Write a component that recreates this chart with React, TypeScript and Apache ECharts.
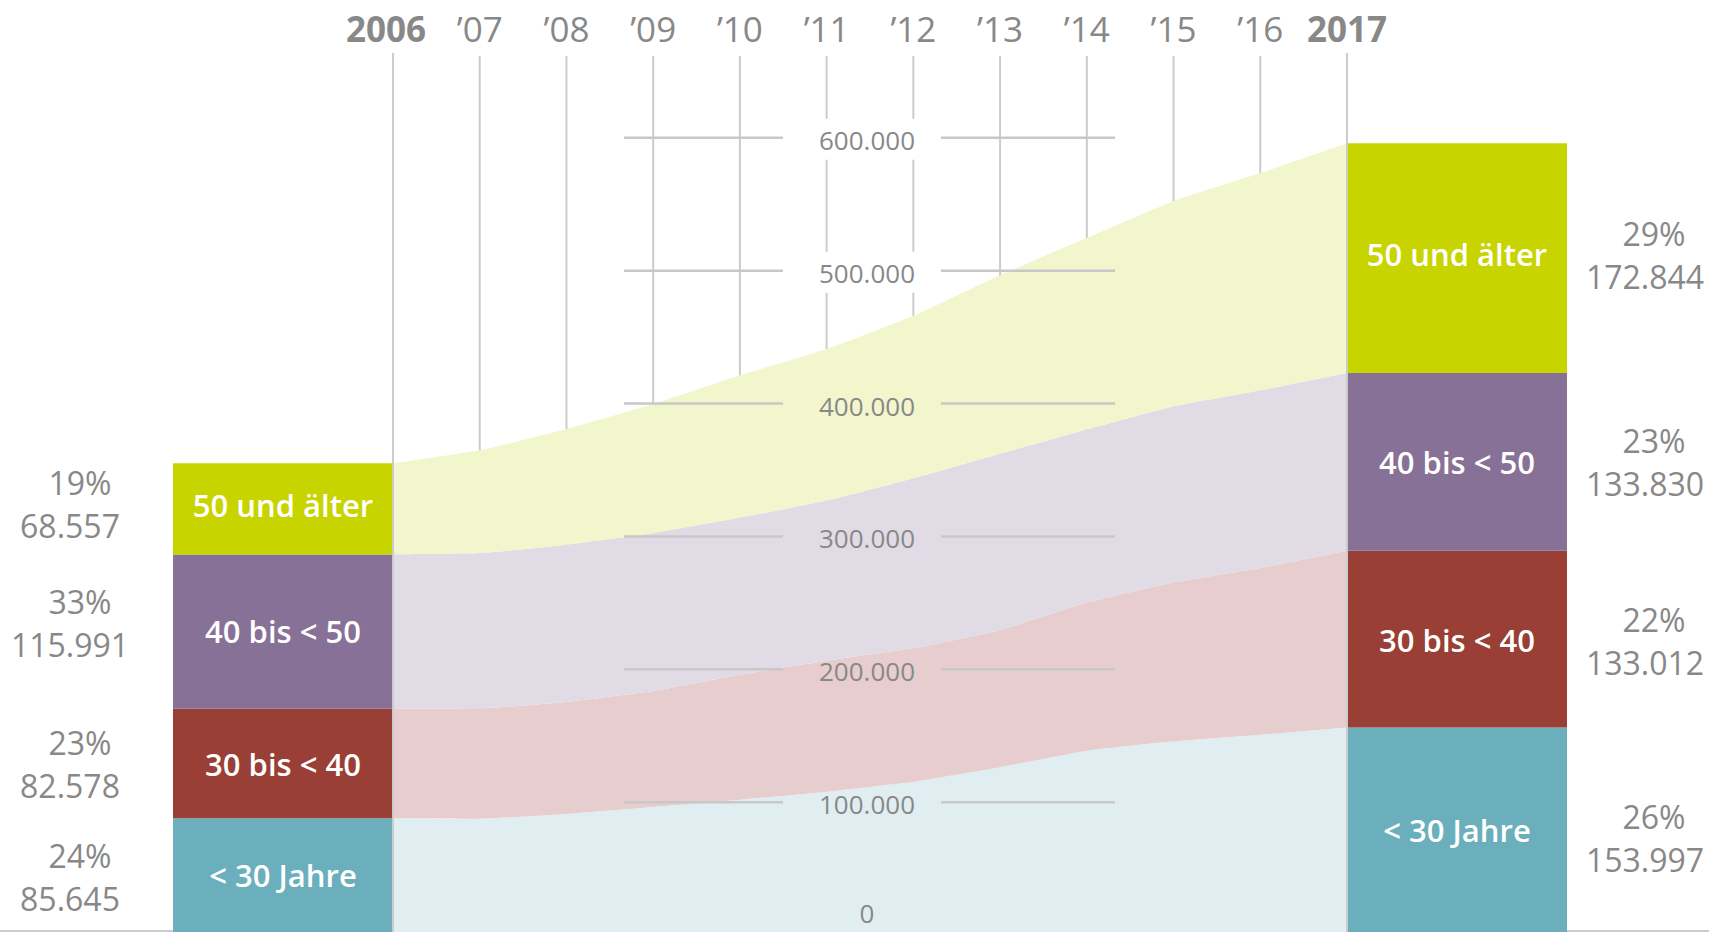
import React, { useEffect, useRef } from "react";
import * as echarts from "echarts";

// ---------- data ----------
const years = ["2006", "2007", "2008", "2009", "2010", "2011", "2012", "2013", "2014", "2015", "2016", "2017"];
const yearLabels = ["2006", "’07", "’08", "’09", "’10", "’11", "’12", "’13", "’14", "’15", "’16", "2017"];
const groups = ["< 30 Jahre", "30 bis < 40", "40 bis < 50", "50 und älter"];
const under30 = [85645, 85300, 88900, 94100, 99500, 105600, 113100, 124000, 136400, 143500, 148500, 153997];
const from30to40 = [82578, 83100, 84300, 87300, 94100, 98600, 100600, 103400, 111600, 119600, 125500, 133012];
const from40to50 = [115991, 116800, 118300, 118900, 118300, 120500, 127800, 132500, 130200, 132600, 133800, 133830];
const over50 = [68557, 77400, 87100, 97100, 107100, 114100, 122400, 134500, 144300, 154400, 163400, 172844];
const share2006 = [24, 23, 33, 19];
const share2017 = [26, 22, 23, 29];
const yTicks = [0, 100000, 200000, 300000, 400000, 500000, 600000];

// ---------- style ----------
const barColors = ["#6BAFBC", "#993F35", "#877197", "#C8D400"];
const areaColors = ["#E0EEF2", "#E7CDCD", "#E1DBE6", "#F2F6CC"];
const GRAY = "#888888";
const LINE_GRAY = "#cccccc";
const FONT = '"Open Sans", "Noto Sans", sans-serif';
const BAR_W = 220;
const LABEL_X = 867;
const GRID_SHIFT = 3;
// small vertical nudges (px) of the side labels, per group, as in the original layout
const sideNudgeLeft = [2, 1, -8, -5];
const sideNudgeRight = [8, 2, 0, -3];
const barLabelNudge = [0, 1, 0, -4];

const fmt = (v: number) => String(Math.round(v)).replace(/\B(?=(\d{3})+(?!\d))/g, ".");

function txt(text: string, x: number, y: number, font: string, fill: string) {
  return {
    type: "text",
    style: {
      text,
      x,
      y,
      font,
      fill,
      align: "center",
      textAlign: "center",
      verticalAlign: "middle",
      textVerticalAlign: "middle",
    },
  };
}

export default function App() {
  const ref = useRef<HTMLDivElement>(null);

  useEffect(() => {
    if (!ref.current) return;
    const chart = echarts.init(ref.current, undefined, { renderer: "svg" });
    const seriesValues = [under30, from30to40, from40to50, over50];
    const last = years.length - 1;

    // bar segment items: [xIndex, low, high, group, side, value, share]
    const barData: number[][] = [];
    [0, last].forEach((xi) => {
      let acc = 0;
      seriesValues.forEach((arr, g) => {
        const v = arr[xi];
        barData.push([xi, acc, acc + v, g, xi === 0 ? -1 : 1, v, xi === 0 ? share2006[g] : share2017[g]]);
        acc += v;
      });
    });

    const innerIdx = years.map((_, i) => [i]).filter((d) => d[0] !== 0 && d[0] !== last);
    const edgeIdx = [[0], [last]];

    const option: any = {
      animation: false,
      grid: { left: 393, right: 1709 - 1347, top: 2, bottom: 0, containLabel: false },
      xAxis: {
        type: "category",
        data: years,
        boundaryGap: false,
        show: false,
      },
      yAxis: {
        type: "value",
        min: 0,
        max: 700000,
        show: false,
        splitLine: { show: false },
      },
      series: [
        // baseline
        {
          type: "custom",
          z: 1,
          silent: true,
          data: [[0, 0]],
          renderItem: (_p: any, api: any) => {
            const y = api.coord([0, 0])[1] - 1;
            return {
              type: "line",
              shape: { x1: 0, y1: y, x2: api.getWidth(), y2: y },
              style: { stroke: LINE_GRAY, lineWidth: 2 },
            };
          },
        },
        // inner year lines
        {
          type: "custom",
          z: 1,
          silent: true,
          data: innerIdx,
          renderItem: (_p: any, api: any) => {
            const p = api.coord([api.value(0), 0]);
            return {
              type: "line",
              shape: { x1: p[0], y1: 56, x2: p[0], y2: p[1] },
              style: { stroke: LINE_GRAY, lineWidth: 2 },
            };
          },
        },
        // white masks behind value labels
        {
          type: "custom",
          z: 2,
          silent: true,
          data: yTicks.filter((v) => v > 0).map((v) => [0, v]),
          renderItem: (_p: any, api: any) => {
            const y = api.coord([0, api.value(1)])[1] + GRID_SHIFT;
            return {
              type: "rect",
              shape: { x: LABEL_X - 80, y: y - 19, width: 150, height: 41 },
              style: { fill: "#ffffff" },
            };
          },
        },
        // stacked areas
        ...seriesValues.map((arr, g) => ({
          type: "line",
          name: groups[g],
          stack: "total",
          z: 3,
          silent: true,
          data: arr,
          smooth: 0.15,
          symbol: "none",
          showSymbol: false,
          lineStyle: { width: 0 },
          areaStyle: { color: areaColors[g], opacity: 1 },
          emphasis: { disabled: true },
        })),
        // grid segments and value labels
        {
          type: "custom",
          z: 4,
          silent: true,
          data: yTicks.map((v) => [0, v]),
          renderItem: (_p: any, api: any) => {
            const v = api.value(1);
            const y0 = api.coord([0, v])[1];
            const font = `normal 26px ${FONT}`;
            if (v === 0) {
              return txt("0", LABEL_X, y0 - 19, font, GRAY);
            }
            const y = y0 + GRID_SHIFT;
            return {
              type: "group",
              children: [
                {
                  type: "line",
                  shape: { x1: LABEL_X - 243, y1: y, x2: LABEL_X - 84, y2: y },
                  style: { stroke: "#c8c8c8", lineWidth: 2.5 },
                },
                {
                  type: "line",
                  shape: { x1: LABEL_X + 74, y1: y, x2: LABEL_X + 248, y2: y },
                  style: { stroke: "#c8c8c8", lineWidth: 2.5 },
                },
                txt(fmt(v), LABEL_X, y + 2, font, GRAY),
              ],
            };
          },
        },
        // bars with labels
        {
          type: "custom",
          z: 6,
          silent: true,
          data: barData,
          renderItem: (_p: any, api: any) => {
            const xi = api.value(0);
            const lo = api.value(1);
            const hi = api.value(2);
            const g = api.value(3);
            const side = api.value(4);
            const val = api.value(5);
            const share = api.value(6);
            const pTop = api.coord([xi, hi]);
            const pBot = api.coord([xi, lo]);
            const x = side < 0 ? pTop[0] - BAR_W : pTop[0];
            const mid = (pTop[1] + pBot[1]) / 2;
            const sideMid = mid + (side < 0 ? sideNudgeLeft[g] : sideNudgeRight[g]);
            const pctX = side < 0 ? x - 93 : x + BAR_W + 87;
            const numX = side < 0 ? x - 103 : x + BAR_W + 78;
            const sideFont = `normal 32px ${FONT}`;
            return {
              type: "group",
              children: [
                {
                  type: "rect",
                  shape: { x, y: pTop[1], width: BAR_W, height: pBot[1] - pTop[1] },
                  style: { fill: barColors[g] },
                },
                txt(groups[g], x + BAR_W / 2, mid + barLabelNudge[g], `600 31px ${FONT}`, "#ffffff"),
                txt(share + "%", pctX, sideMid - 21.5, sideFont, GRAY),
                txt(fmt(val), numX, sideMid + 21.5, sideFont, GRAY),
              ],
            };
          },
        },
        // edge year lines (2006, 2017)
        {
          type: "custom",
          z: 7,
          silent: true,
          data: edgeIdx,
          renderItem: (_p: any, api: any) => {
            const p = api.coord([api.value(0), 0]);
            return {
              type: "line",
              shape: { x1: p[0], y1: 53, x2: p[0], y2: p[1] },
              style: { stroke: LINE_GRAY, lineWidth: 2 },
            };
          },
        },
        // year labels
        {
          type: "custom",
          z: 7,
          silent: true,
          data: years.map((_, i) => [i]),
          renderItem: (_p: any, api: any) => {
            const i = api.value(0);
            const p = api.coord([i, 0]);
            const edge = i === 0 || i === last;
            const font = `${edge ? "bold" : "normal"} 35px ${FONT}`;
            return txt(yearLabels[i], p[0] + (i === 0 ? -7 : 0), 28, font, GRAY);
          },
        },
      ],
    };

    chart.setOption(option);
    return () => chart.dispose();
  }, []);

  return (
    <div
      ref={ref}
      style={{ position: "absolute", left: 0, top: 0, width: 1709, height: 932, background: "#ffffff" }}
    />
  );
}
